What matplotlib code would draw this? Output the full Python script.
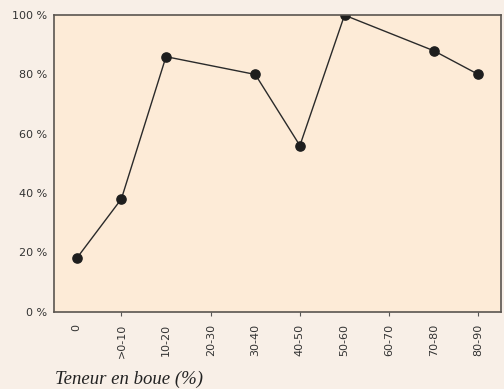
import numpy as np
from matplotlib import pyplot as plt

categories = ["0", ">0-10", "10-20", "20-30", "30-40", "40-50", "50-60", "60-70", "70-80", "80-90"]
# None = no value for that class
values = [18, 38, 86, None, 80, 56, 100, None, 88, 80]
yticks = [0, 20, 40, 60, 80, 100]

x = [i for i, v in enumerate(values) if v is not None]
y = [v for v in values if v is not None]

fig = plt.figure(figsize=(5.04, 3.89), dpi=100, facecolor="#F8EFE7")
ax = fig.add_axes([0.108, 0.199, 0.8855, 0.762], facecolor="#FDEBD7")

ax.plot(x, y, color="#2a2a2a", lw=1.0, zorder=2)
ax.scatter(x, y, s=44, color="#1e1e1e", zorder=2)

ax.set_xlim(-0.5, len(categories) - 0.5)
ax.set_ylim(0, 100)
ax.set_xticks(range(len(categories)))
ax.set_xticklabels(categories, rotation=90, fontsize=8, color="#333333")
ax.set_yticks(yticks)
ax.set_yticklabels(["%d %%" % t for t in yticks], fontsize=8, color="#333333")
ax.tick_params(axis="y", length=0, pad=5)
ax.tick_params(axis="x", length=3, width=0.8, color="#555555", pad=6)
for i, t in enumerate(ax.xaxis.get_major_ticks()):
    if i % 2 == 0:
        t.tick1line.set_visible(False)

for s in ax.spines.values():
    s.set_color("#5a5550")
    s.set_linewidth(1.2)

fig.text(0.109, 0.025, "Teneur en boue (%)", fontsize=13.5, style="italic",
         family="Liberation Serif", color="#222222", va="center")

plt.savefig("out.png", dpi=100, facecolor=fig.get_facecolor())
